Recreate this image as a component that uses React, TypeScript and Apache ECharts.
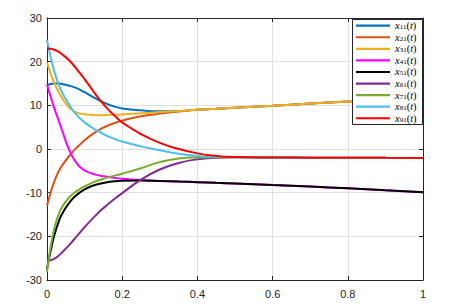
import React, { useEffect, useRef } from 'react';
import * as echarts from 'echarts';

const tValues = [0, 0.01, 0.02, 0.03, 0.04, 0.06, 0.08, 0.1, 0.12, 0.14, 0.16, 0.18, 0.2, 0.25, 0.3, 0.35, 0.4, 0.45, 0.5, 0.6, 0.7, 0.8, 0.9, 1.0];

const x11 = [14.6, 14.9, 15.0, 15.0, 14.9, 14.5, 13.9, 13.0, 12.0, 11.1, 10.3, 9.7, 9.3, 8.85, 8.65, 8.7, 9.0, 9.2, 9.45, 9.9, 10.4, 10.9, 11.4, 11.9];
const x21 = [-13.0, -9.9, -7.3, -5.3, -3.8, -1.5, 0.4, 2.0, 3.35, 4.45, 5.3, 5.95, 6.5, 7.5, 8.1, 8.6, 9.0, 9.2, 9.45, 9.9, 10.4, 10.9, 11.4, 11.9];
const x31 = [19.8, 17.2, 15.0, 13.2, 11.7, 9.4, 8.3, 7.95, 7.8, 7.75, 7.8, 7.85, 7.9, 8.2, 8.45, 8.7, 9.0, 9.2, 9.45, 9.9, 10.4, 10.9, 11.4, 11.9];
const x41 = [14.8, 11.9, 9.2, 6.8, 4.3, -0.4, -3.4, -4.9, -5.6, -6.1, -6.35, -6.6, -6.8, -7.1, -7.3, -7.45, -7.6, -7.75, -7.9, -8.25, -8.6, -9.0, -9.45, -9.9];
const x51 = [-27.5, -23.2, -19.6, -16.9, -14.9, -12.2, -10.45, -9.25, -8.45, -7.95, -7.6, -7.4, -7.25, -7.2, -7.3, -7.45, -7.6, -7.75, -7.9, -8.25, -8.6, -9.0, -9.45, -9.9];
const x61 = [-25.6, -25.45, -25.1, -24.5, -23.7, -21.9, -19.9, -17.9, -16.05, -14.3, -12.8, -11.4, -10.1, -7.0, -4.7, -3.2, -2.35, -2.0, -1.9, -1.95, -1.98, -2.0, -2.03, -2.05];
const x71 = [-28.1, -22.3, -18.0, -15.2, -13.3, -11.0, -9.6, -8.55, -7.75, -7.1, -6.55, -6.1, -5.65, -4.4, -3.0, -2.2, -1.95, -1.9, -1.9, -1.95, -1.98, -2.0, -2.03, -2.05];
const x81 = [25.0, 21.0, 17.6, 15.0, 13.0, 10.0, 7.7, 6.1, 4.9, 3.9, 3.0, 2.3, 1.7, 0.6, -0.3, -1.1, -1.6, -1.8, -1.9, -1.95, -1.98, -2.0, -2.03, -2.05];
const x91 = [23.0, 22.95, 22.7, 22.3, 21.7, 20.2, 18.2, 16.0, 13.6, 11.3, 9.3, 7.6, 6.1, 3.4, 1.4, 0.0, -1.0, -1.6, -1.85, -1.95, -1.98, -2.0, -2.03, -2.05];

const seriesNames = ['x11(t)', 'x21(t)', 'x31(t)', 'x41(t)', 'x51(t)', 'x61(t)', 'x71(t)', 'x81(t)', 'x91(t)'];
const seriesValues = [x11, x21, x31, x41, x51, x61, x71, x81, x91];
const seriesColors = ['#0072BD', '#D95319', '#EDB120', '#FF00FF', '#000000', '#7E2F8E', '#77AC30', '#4DBEEE', '#FF0000'];

const xTicks = { min: 0, max: 1, interval: 0.2 };
const yTicks = { min: -30, max: 30, interval: 10 };

export default function App() {
  const ref = useRef<HTMLDivElement>(null);
  useEffect(() => {
    const chart = echarts.init(ref.current!, null, { renderer: 'svg' });
    const axisColor = '#262626';
    const labelFont = { fontFamily: 'Liberation Sans, Arial, sans-serif', fontSize: 11, color: axisColor };
    const serif = 'Liberation Serif, DejaVu Serif, serif';
    chart.setOption({
      animation: false,
      backgroundColor: '#ffffff',
      grid: { left: 47, right: 38, top: 18, bottom: 28, containLabel: false, outerBoundsMode: 'none' },
      xAxis: [
        {
          type: 'value', min: xTicks.min, max: xTicks.max, interval: xTicks.interval,
          axisLine: { show: true, onZero: false, lineStyle: { color: axisColor, width: 1 } },
          axisTick: { show: true, inside: true, length: 4, lineStyle: { color: axisColor } },
          axisLabel: { ...labelFont, margin: 8, formatter: (v: number) => String(+v.toFixed(1)) },
          splitLine: { show: true, lineStyle: { color: '#e0e0e0', width: 1 } },
        },
        {
          type: 'value', position: 'top', min: xTicks.min, max: xTicks.max, interval: xTicks.interval,
          axisLine: { show: true, onZero: false, lineStyle: { color: axisColor, width: 1 } },
          axisTick: { show: true, inside: true, length: 4, lineStyle: { color: axisColor } },
          axisLabel: { show: false },
          splitLine: { show: false },
        },
      ],
      yAxis: [
        {
          type: 'value', min: yTicks.min, max: yTicks.max, interval: yTicks.interval,
          axisLine: { show: true, onZero: false, lineStyle: { color: axisColor, width: 1 } },
          axisTick: { show: true, inside: true, length: 4, lineStyle: { color: axisColor } },
          axisLabel: { ...labelFont, margin: 5 },
          splitLine: { show: true, lineStyle: { color: '#e0e0e0', width: 1 } },
        },
        {
          type: 'value', position: 'right', min: yTicks.min, max: yTicks.max, interval: yTicks.interval,
          axisLine: { show: true, onZero: false, lineStyle: { color: axisColor, width: 1 } },
          axisTick: { show: true, inside: true, length: 4, lineStyle: { color: axisColor } },
          axisLabel: { show: false },
          splitLine: { show: false },
        },
      ],
      legend: {
        orient: 'vertical',
        left: 356,
        top: 20.2,
        padding: 0,
        itemWidth: 34,
        itemHeight: 11,
        itemGap: 0.57,
        z: 6,
        icon: 'path://M0,0H34V2.2H0Z',
        data: seriesNames,
        formatter: (name: string) => `{x|x}{s|${name.slice(1, 3)}}{p|(}{x|t}{p|)}`,
        textStyle: {
          color: '#000',
          fontSize: 10,
          lineHeight: 10,
          rich: {
            x: { fontFamily: serif, fontStyle: 'italic', fontSize: 10.5, lineHeight: 10, color: '#000' },
            s: { fontFamily: serif, fontSize: 7, lineHeight: 5, verticalAlign: 'bottom', color: '#000' },
            p: { fontFamily: serif, fontSize: 10.5, lineHeight: 10, color: '#000' },
          },
        },
      },
      graphic: [
        {
          type: 'rect',
          z: 5,
          shape: { x: 352.5, y: 19.5, width: 70, height: 105 },
          style: { fill: '#ffffff', stroke: axisColor, lineWidth: 1 },
        },
      ],
      series: seriesNames.map((name, i) => ({
        name,
        type: 'line',
        data: tValues.map((t, k) => [t, seriesValues[i][k]]),
        symbol: 'none',
        smooth: 0.5,
        clip: true,
        color: seriesColors[i],
        lineStyle: { color: seriesColors[i], width: 2 },
      })),
    });
    return () => chart.dispose();
  }, []);
  return <div ref={ref} style={{ position: 'fixed', left: 0, top: 0, width: 461, height: 308, background: '#fff' }} />;
}
